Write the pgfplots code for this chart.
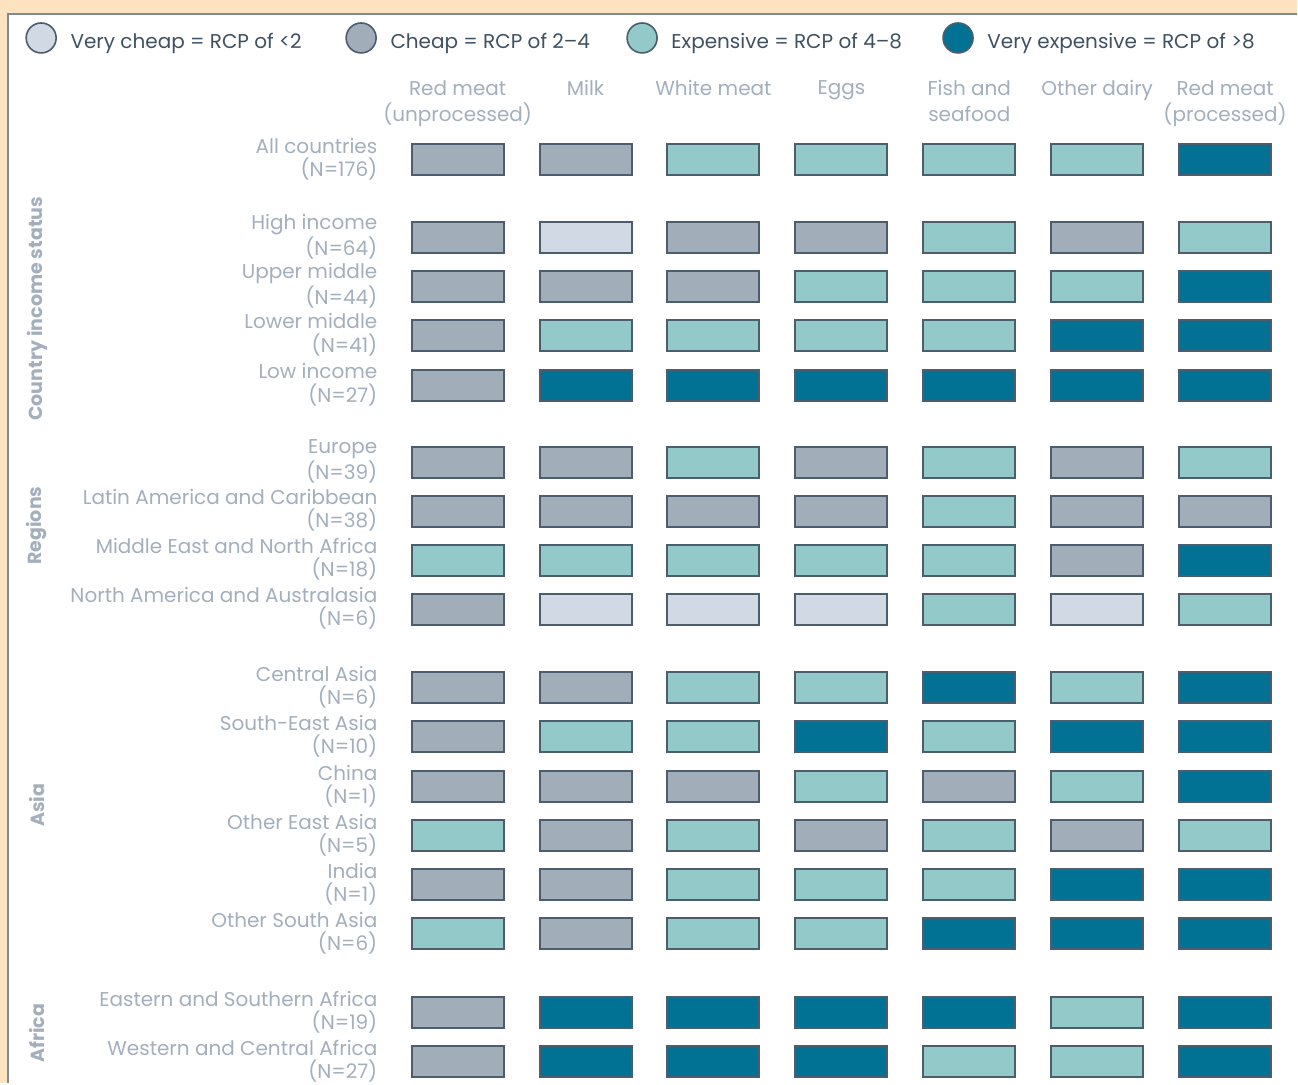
\documentclass[border=0pt]{standalone}
\usepackage{pgfplots}
\pgfplotsset{compat=1.18}
\usepackage{pgfplotstable}
\usepackage{fontspec}
\setmainfont{Poppins}
\definecolor{cVC}{HTML}{D0D9E4}
\definecolor{cCH}{HTML}{A1ADB9}
\definecolor{cEX}{HTML}{93C9C8}
\definecolor{cVE}{HTML}{017294}
\definecolor{bd}{HTML}{4B5D6E}
\definecolor{lbl}{HTML}{A3AFBD}
\definecolor{legtext}{HTML}{3F5161}
\definecolor{peach}{HTML}{FEE3C0}
\definecolor{frame}{HTML}{7D8A97}
\pgfdeclareplotmark{cell}{%
  \pgfpathrectangle{\pgfpoint{-23pt}{-7.75pt}}{\pgfpoint{46pt}{15.5pt}}%
  \pgfusepathqfillstroke}
% y = row position (px from top); c0..c6 = RCP class per food group
% vc: very cheap (<2), ch: cheap (2-4), ex: expensive (4-8), ve: very expensive (>8)
\pgfplotstableread{
y    c0 c1 c2 c3 c4 c5 c6
159.5  ch ch ex ex ex ex ve
237.5  ch vc ch ch ex ch ex
286.5  ch ch ch ex ex ex ve
335.5  ch ex ex ex ex ve ve
385.5  ch ve ve ve ve ve ve
462.5  ch ch ex ch ex ch ex
511.5  ch ch ch ch ex ch ch
560.5  ex ex ex ex ex ch ve
609.5  ch vc vc vc ex vc ex
688.5  ch ch ex ex ve ex ve
737.5  ch ex ex ve ex ve ve
787.5  ch ch ch ex ch ex ve
836.5  ex ch ex ch ex ch ex
885.5  ch ch ex ex ex ve ve
934.5  ex ch ex ex ve ve ve
1013.5 ch ve ve ve ve ex ve
1062.5 ch ve ve ve ex ex ve
}\rcp
\newcommand{\lf}{\fontsize{10}{11.6}\selectfont}
\newcommand{\hf}{\fontsize{10}{13}\selectfont}
\begin{document}
\begin{tikzpicture}
\begin{axis}[
  width=649pt, height=542pt, scale only axis,
  xmin=0, xmax=1298, ymin=0, ymax=1084, y dir=reverse,
  hide axis, clip=false,
  legend style={at={(axis cs:25,38)}, anchor=west, draw=none, fill=none,
    inner sep=0pt, column sep=0pt, nodes={inner sep=0pt},
    font=\lf, text=legtext},
  legend columns=4,
  cellclasses/.style={scatter, only marks, mark=cell, scatter src=explicit symbolic,
    scatter/classes={vc={draw=bd,fill=cVC}, ch={draw=bd,fill=cCH},
                     ex={draw=bd,fill=cEX}, ve={draw=bd,fill=cVE}},
    mark options={line width=1pt}},
]
\fill[peach] (axis cs:0,0) rectangle (axis cs:1298,1084);
\fill[white] (axis cs:8,14) rectangle (axis cs:1298,1084);
\draw[frame, line width=1pt] (axis cs:8,1084) -- (axis cs:8,14) -- (axis cs:1298,14);

\addlegendimage{legend image code/.code={\draw[draw=bd,fill=cVC,line width=0.8pt] (7.5pt,2pt) circle (7.5pt); \path (22pt,0pt);}}
\addlegendimage{legend image code/.code={\draw[draw=bd,fill=cCH,line width=0.8pt] (7.5pt,2pt) circle (7.5pt); \path (22pt,0pt);}}
\addlegendimage{legend image code/.code={\draw[draw=bd,fill=cEX,line width=0.8pt] (7.5pt,2pt) circle (7.5pt); \path (22pt,0pt);}}
\addlegendimage{legend image code/.code={\draw[draw=bd,fill=cVE,line width=0.8pt] (7.5pt,2pt) circle (7.5pt); \path (22pt,0pt);}}
\legend{\makebox[137.5pt][l]{Very cheap = RCP of <2},
        \makebox[118pt][l]{Cheap = RCP of 2--4},
        \makebox[135.5pt][l]{Expensive = RCP of 4--8},
        Very expensive = RCP of >8}

\pgfplotsinvokeforeach{0,1,2,3,4,5,6}{
  \addplot[forget plot, cellclasses] table[x expr={458+128*#1}, y=y, meta=c#1]{\rcp};
}

% column headers
\begin{scope}[every node/.style={font=\hf, text=lbl, align=center, anchor=north, inner sep=0pt}]
\node at (axis cs:458,80) {Red meat\\(unprocessed)};
\node at (axis cs:586,80) {Milk};
\node at (axis cs:714,80) {White meat};
\node at (axis cs:842,80) {Eggs};
\node at (axis cs:970,80) {Fish and\\seafood};
\node at (axis cs:1098,80) {Other dairy};
\node at (axis cs:1226,80) {Red meat\\(processed)};
\end{scope}

% row labels
\begin{scope}[every node/.style={font=\lf, text=lbl, align=right, anchor=east, inner sep=0pt}]
\node at (axis cs:378,159) {All countries\\(N=176)};
\node at (axis cs:378,237) {High income\\(N=64)};
\node at (axis cs:378,286) {Upper middle\\(N=44)};
\node at (axis cs:378,335) {Lower middle\\(N=41)};
\node at (axis cs:378,385) {Low income\\(N=27)};
\node at (axis cs:378,462) {Europe\\(N=39)};
\node at (axis cs:378,511) {Latin America and Caribbean\\(N=38)};
\node at (axis cs:378,560) {Middle East and North Africa\\(N=18)};
\node at (axis cs:378,609) {North America and Australasia\\(N=6)};
\node at (axis cs:378,688) {Central Asia\\(N=6)};
\node at (axis cs:378,737) {South-East Asia\\(N=10)};
\node at (axis cs:378,787) {China\\(N=1)};
\node at (axis cs:378,836) {Other East Asia\\(N=5)};
\node at (axis cs:378,885) {India\\(N=1)};
\node at (axis cs:378,934) {Other South Asia\\(N=6)};
\node at (axis cs:378,1013) {Eastern and Southern Africa\\(N=19)};
\node at (axis cs:378,1062) {Western and Central Africa\\(N=27)};
\end{scope}

% group labels
\begin{scope}[every node/.style={font=\fontsize{9.5}{11}\selectfont\bfseries, text=lbl, rotate=90, inner sep=0pt}]
\node at (axis cs:37,309) {Country income status};
\node at (axis cs:37,526) {Regions};
\node at (axis cs:37,806) {Asia};
\node at (axis cs:37,1034) {Africa};
\end{scope}
\end{axis}
\end{tikzpicture}
\end{document}
